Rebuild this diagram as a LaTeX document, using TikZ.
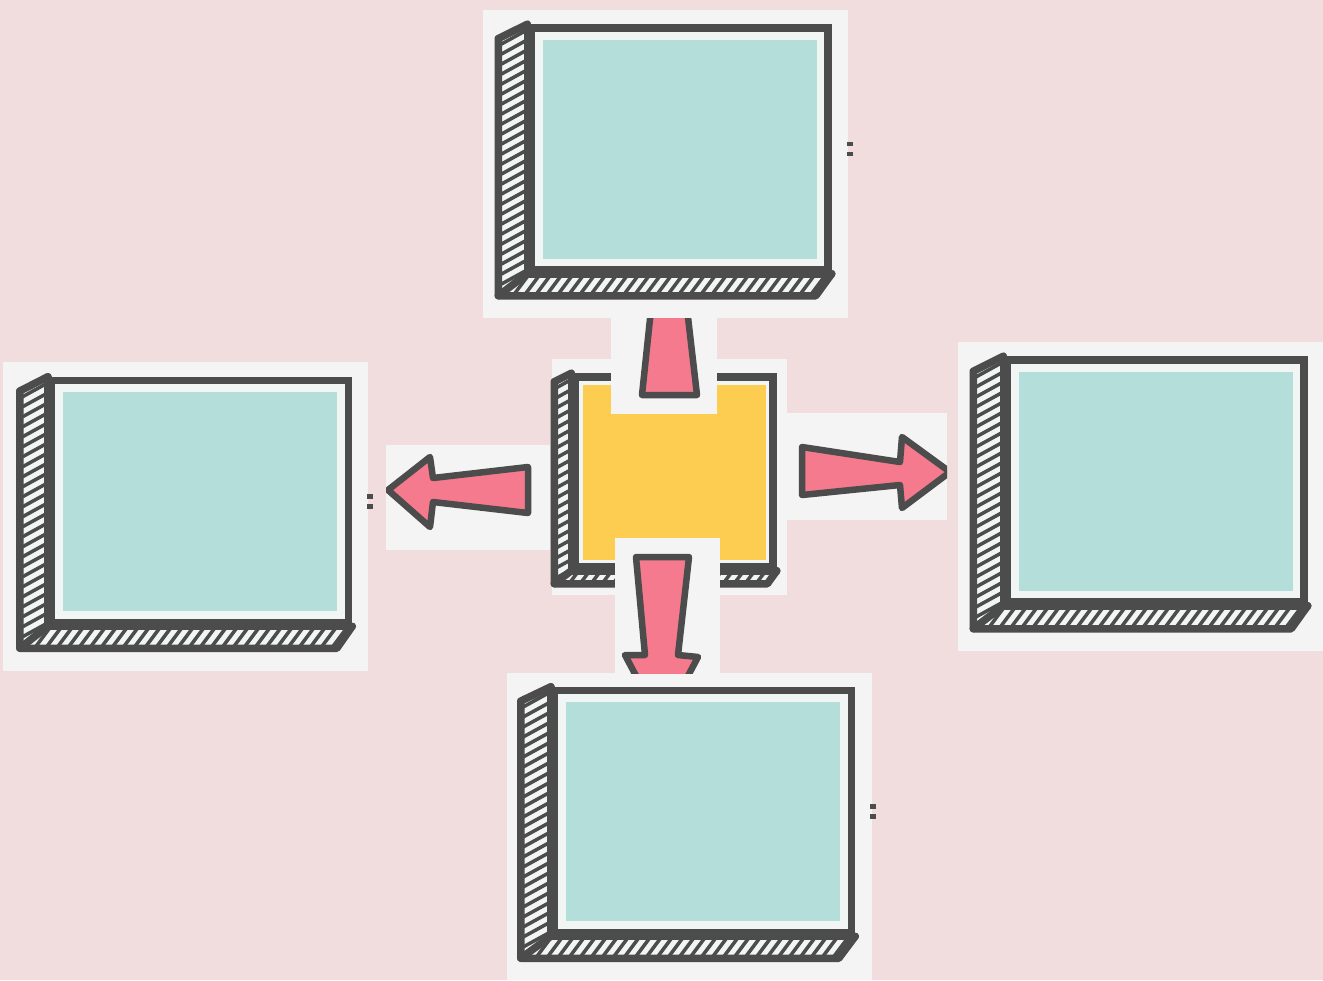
\documentclass[tikz,border=0pt]{standalone}
\usepackage{tikz}
\usetikzlibrary{calc}
\definecolor{bgpink}{RGB}{241,221,221}
\definecolor{patchgray}{RGB}{244,244,244}
\definecolor{outline}{RGB}{76,76,76}
\definecolor{tealfill}{RGB}{180,222,217}
\definecolor{facewhite}{RGB}{241,246,245}
\definecolor{arrowpink}{RGB}{245,122,142}
\definecolor{yellowfill}{RGB}{253,205,82}

% hatched left and bottom sides of a box node
\newcommand{\boxsides}[3]{%
  \coordinate (#1-a) at ($(#1.north west)+(-#2,-0.65*#3)$);
  \coordinate (#1-b) at ($(#1.south west)+(-#2,-#3)$);
  \coordinate (#1-c) at ($(#1.south east)+(-0.55*#2,-#3)$);
  \fill[facewhite] (#1.north west) -- (#1-a) -- (#1-b) -- (#1-c) -- (#1.south east) -- (#1.south west) -- cycle;
  \begin{scope}
    \clip (#1.north west) -- (#1-a) -- (#1-b) -- (#1.south west) -- cycle;
    \foreach \k in {-2,...,30}
      \draw[hatch] ($(#1-a)+(-0.5mm,-\k*1mm)$) -- ++(4mm,2.2mm);
  \end{scope}
  \begin{scope}
    \clip (#1.south west) -- (#1-b) -- (#1-c) -- (#1.south east) -- cycle;
    \foreach \k in {-2,...,32}
      \draw[hatch] ($(#1-b)+(\k*1.1mm,-0.5mm)$) -- ++(2.4mm,3.2mm);
  \end{scope}
  \draw[edge] (#1.north west) -- (#1-a) -- (#1-b) -- (#1-c) -- (#1.south east);
  \draw[edge] (#1.south west) -- (#1-b);
  \draw[edge] (#1.north west) -- (#1.south west) -- (#1.south east);
}
% two small dashes right of a box
\newcommand{\sidemarks}[1]{%
  \draw[outline, line width=0.45mm] ($(#1.east)+(1.5mm,0.5mm)$) -- ++(0.6mm,0);
  \draw[outline, line width=0.45mm] ($(#1.east)+(1.5mm,-0.5mm)$) -- ++(0.6mm,0);
}

\begin{document}
\begin{tikzpicture}[
    x=0.1mm, y=-0.1mm,
    edge/.style={draw=outline, line width=0.75mm, line join=round, line cap=round},
    hatch/.style={draw=outline, line width=0.35mm},
    patch/.style={fill=patchgray},
    facebox/.style n args={4}{draw=outline, line width=0.75mm, fill=facewhite,
        minimum width=#1, minimum height=#2, inner sep=0pt,
        path picture={\fill[#3] ([shift={(#4,-#4)}]path picture bounding box.north west)
            rectangle ([shift={(-#4,#4)}]path picture bounding box.south east);}},
    screen/.style={facebox={29.7mm}{24.2mm}{tealfill}{1.15mm}},
    hub/.style={facebox={19.8mm}{19mm}{yellowfill}{0.75mm}},
    arrowshape/.style={fill=arrowpink, draw=outline, line width=0.65mm, line join=round},
]
    \useasboundingbox (0,0) rectangle (1323,980);
    \fill[bgpink] (0,0) rectangle (1323,980);

    % panels behind the outer boxes
    \fill[patch] (483,10) rectangle (848,318);
    \fill[patch] (3,362) rectangle (368,671);
    \fill[patch] (958,342) rectangle (1323,651);
    \fill[patch] (507,673) rectangle (872,980);

    \node[screen] (top) at (679.5,149) {};
    \boxsides{top}{2.9mm}{2.2mm}
    \sidemarks{top}
    \node[screen] (left) at (200,501.5) {};
    \boxsides{left}{2.8mm}{2.2mm}
    \sidemarks{left}
    \node[screen] (right) at (1155.5,481) {};
    \boxsides{right}{3mm}{2.3mm}
    \sidemarks{right}
    \node[screen] (bottom) at (703,811.5) {};
    \boxsides{bottom}{3mm}{2.2mm}
    \sidemarks{bottom}

    % centre box
    \fill[patch] (552,359) rectangle (787,595);
    \node[hub] (hub) at (674,472) {};
    \boxsides{hub}{1.7mm}{1.3mm}

    % up arrow
    \fill[patch] (611,318) rectangle (717,414);
    \begin{scope}
        \clip (611,318) rectangle (717,414);
        \draw[arrowshape] (652,300) -- (642,395) -- (697,395) -- (686,300) -- cycle;
    \end{scope}
    % left arrow
    \fill[patch] (386,445) rectangle (550,550);
    \begin{scope}
        \clip (386,445) rectangle (550,550);
        \draw[arrowshape] (528,467) -- (528,513) -- (433,502) -- (430,527) -- (388,490)
            -- (430,457) -- (433,478) -- cycle;
    \end{scope}
    % right arrow
    \fill[patch] (787,413) rectangle (947,520);
    \begin{scope}
        \clip (787,413) rectangle (947,520);
        \draw[arrowshape] (802,447) -- (900,462) -- (902,437) -- (950,472) -- (902,508)
            -- (900,485) -- (802,495) -- cycle;
    \end{scope}
    % down arrow
    \fill[patch] (615,538) rectangle (720,673);
    \begin{scope}
        \clip (615,538) rectangle (720,673);
        \draw[arrowshape] (636,557) -- (689,557) -- (678,655) -- (698,657) -- (662,725)
            -- (625,655) -- (645,655) -- cycle;
    \end{scope}
\end{tikzpicture}
\end{document}
